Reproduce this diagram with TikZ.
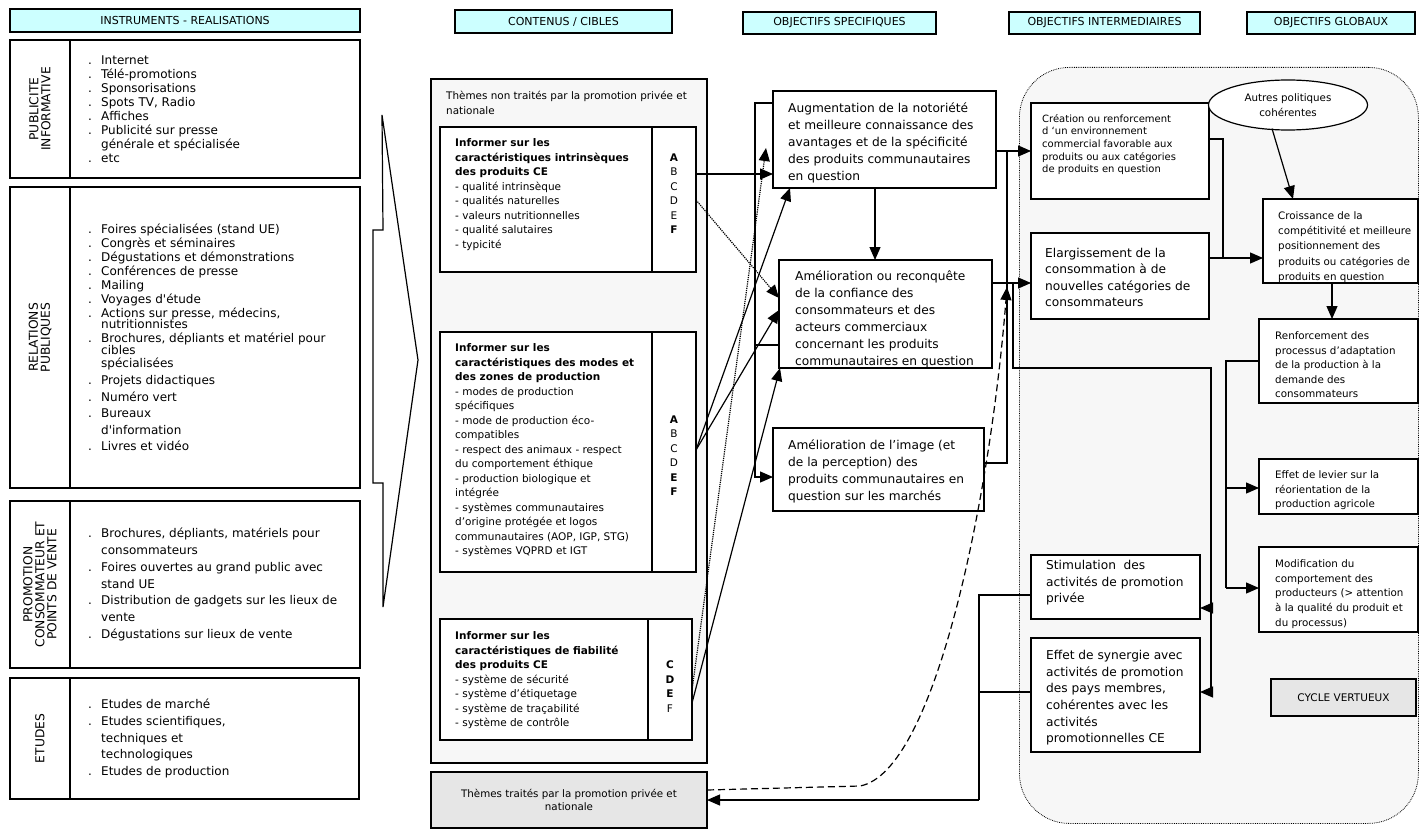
\documentclass[tikz,border=0pt]{standalone}
\usepackage{fontspec}
\setmainfont{DejaVu Sans}
\usetikzlibrary{arrows.meta,shapes.geometric,calc}
\definecolor{hdrc}{HTML}{CCFFFF}
\definecolor{lgray}{HTML}{F7F7F7}
\definecolor{mgray}{HTML}{E6E6E6}
\newcommand\fsz[2]{\fontsize{#1pt}{#2pt}\selectfont}
\newcommand\dt{\makebox[13pt][l]{.}}
\newcommand\ind{\hspace*{13pt}}
\newcommand\sq{\textquotesingle}
\begin{document}
\begin{tikzpicture}[x=1pt,y=-1pt,
  bx/.style={draw, line width=1.2pt, fill=white, inner sep=0pt, outer sep=0pt, anchor=north west},
  hdr/.style={bx, fill=hdrc, font=\fsz{11}{13}},
  tx/.style={inner sep=0pt, align=left, anchor=north west},
  lbl/.style={inner sep=0pt, align=center, rotate=90, font=\fsz{12.3}{12}},
  ln/.style={line width=1.2pt},
  arr/.style={line width=1.2pt, -{Triangle[length=13pt,width=11pt]}},
  dotarr/.style={arr, densely dotted},
  dasharr/.style={arr, dash pattern=on 7pt off 4pt}]
\useasboundingbox (0,0) rectangle (1420,829);

% ---------- headers
\node[hdr, minimum width=350pt, minimum height=23pt] (h1) at (10,9) {INSTRUMENTS - REALISATIONS};
\node[hdr, minimum width=217pt, minimum height=23pt] (h2) at (455,10) {CONTENUS / CIBLES};
\node[hdr, minimum width=193pt, minimum height=22pt] (h3) at (743,12) {OBJECTIFS SPECIFIQUES};
\node[hdr, minimum width=191pt, minimum height=22pt] (h4) at (1009,12) {OBJECTIFS INTERMEDIAIRES};
\node[hdr, minimum width=168pt, minimum height=22pt] (h5) at (1247,12) {OBJECTIFS GLOBAUX};

% ---------- instruments
\node[bx, minimum width=60pt, minimum height=138pt] (pl) at (10,40) {};
\node[bx, minimum width=290pt, minimum height=138pt] (pc) at (70,40) {};
\node[bx, minimum width=60pt, minimum height=301pt] (rl) at (10,187) {};
\node[bx, minimum width=290pt, minimum height=301pt] (rc) at (70,187) {};
\node[bx, minimum width=60pt, minimum height=167pt] (cl) at (10,501) {};
\node[bx, minimum width=290pt, minimum height=167pt] (cc) at (70,501) {};
\node[bx, minimum width=60pt, minimum height=121pt] (el) at (10,678) {};
\node[bx, minimum width=289pt, minimum height=121pt] (ec) at (70,678) {};

\node[lbl] (plt) at (pl.center) {PUBLICITE\\INFORMATIVE};
\node[lbl] (rlt) at (rl.center) {RELATIONS\\PUBLIQUES};
\node[lbl] (clt) at (cl.center) {PROMOTION\\CONSOMMATEUR ET\\POINTS DE VENTE};
\node[lbl] (elt) at (el.center) {ETUDES};

\node[tx, anchor=west, font=\fsz{12}{14}] (pct) at ([xshift=18pt]pc.west) {\dt Internet\\\dt Télé-promotions\\\dt Sponsorisations\\\dt Spots TV, Radio\\\dt Affiches\\\dt Publicité sur presse\\\ind générale et spécialisée\\\dt etc};
\node[tx, anchor=west, font=\fsz{12}{14}] (rct) at ([xshift=18pt]rc.west) {\dt Foires spécialisées (stand UE)\\\dt Congrès et séminaires\\\dt Dégustations et démonstrations\\\dt Conférences de presse\\\dt Mailing\\\dt Voyages d\sq étude\\\dt Actions sur presse, médecins,\\[-3pt]\ind nutritionnistes\\\dt Brochures, dépliants et matériel pour\\[-2pt]\ind cibles\\[-1pt]\ind spécialisées\\[3pt]\dt Projets didactiques\\[3pt]\dt Numéro vert\\[2pt]\dt Bureaux\\[3pt]\ind d\sq information\\[2pt]\dt Livres et vidéo};
\node[tx, anchor=west, font=\fsz{12}{16.7}] (cct) at ([xshift=18pt]cc.west) {\dt Brochures, dépliants, matériels pour\\\ind consommateurs\\\dt Foires ouvertes au grand public avec\\\ind stand UE\\\dt Distribution de gadgets sur les lieux de\\\ind vente\\\dt Dégustations sur lieux de vente};
\node[tx, anchor=west, font=\fsz{12}{16.7}] (ect) at ([xshift=18pt]ec.west) {\dt Etudes de marché\\\dt Etudes scientifiques,\\\ind techniques et\\\ind technologiques\\\dt Etudes de production};

% chevron
\draw[ln] (382,115) -- (418,360) -- (383,607) -- (383,483) -- (373,483) -- (373,230) -- (383,230) -- cycle;

% ---------- contenus
\node[bx, fill=lgray, minimum width=276pt, minimum height=684pt] (cg) at (431,79) {};
\node[tx, font=\fsz{10.4}{14.5}] (cgt) at (446,91) {Thèmes non traités par la promotion privée et\\nationale};

\node[bx, minimum width=212pt, minimum height=145pt] (b1t) at (440,127) {};
\node[bx, minimum width=44pt, minimum height=145pt] (b1l) at (652,127) {};
\node[bx, minimum width=212pt, minimum height=240pt] (b2t) at (440,332) {};
\node[bx, minimum width=44pt, minimum height=240pt] (b2l) at (652,332) {};
\node[bx, minimum width=208pt, minimum height=121pt] (b3t) at (440,619) {};
\node[bx, minimum width=44pt, minimum height=121pt] (b3l) at (648,619) {};

\node[tx, font=\fsz{10.5}{14.5}] (b1x) at (455,138.5) {\textbf{Informer sur les}\\\textbf{caractéristiques intrinsèques}\\\textbf{des produits CE}\\- qualité intrinsèque\\- qualités naturelles\\- valeurs nutritionnelles\\- qualité salutaires\\- typicité};
\node[inner sep=0pt, align=center, anchor=north, font=\fsz{10.5}{14.5}] (b1y) at (674,153.5) {\textbf{A}\\B\\C\\D\\E\\\textbf{F}};
\node[tx, font=\fsz{10.5}{14.5}] (b2x) at (455,343.5) {\textbf{Informer sur les}\\\textbf{caractéristiques des modes et}\\\textbf{des zones de production}\\- modes de production\\spécifiques\\- mode de production éco-\\compatibles\\- respect des animaux - respect\\du comportement éthique\\- production biologique et\\intégrée\\- systèmes communautaires\\d’origine protégée et logos\\communautaires (AOP, IGP, STG)\\- systèmes VQPRD et IGT};
\node[inner sep=0pt, align=center, anchor=north, font=\fsz{10.5}{14.5}] (b2y) at (674,415.5) {\textbf{A}\\B\\C\\D\\\textbf{E}\\\textbf{F}};
\node[tx, font=\fsz{10.5}{14.5}] (b3x) at (455,631.5) {\textbf{Informer sur les}\\\textbf{caractéristiques de fiabilité}\\\textbf{des produits CE}\\- système de sécurité\\- système d’étiquetage\\- système de traçabilité\\- système de contrôle};
\node[inner sep=0pt, align=center, anchor=north, font=\fsz{10.5}{14.5}] (b3y) at (670,660.5) {\textbf{C}\\\textbf{D}\\\textbf{E}\\F};

\node[bx, fill=mgray, minimum width=276pt, minimum height=56pt, align=center, font=\fsz{10.3}{13}] (bot) at (431,772) {Thèmes traités par la promotion privée et\\nationale};

% ---------- objectifs specifiques
\node[bx, minimum width=223pt, minimum height=97pt] (s1) at (773,91) {};
\node[tx, font=\fsz{12.2}{17}] (s1x) at (788,103) {Augmentation de la notoriété\\et meilleure connaissance des\\avantages et de la spécificité\\des produits communautaires\\en question};
\node[bx, minimum width=213pt, minimum height=108pt] (s2) at (779,260) {};
\node[tx, font=\fsz{12.2}{17}] (s2x) at (795,271) {Amélioration ou reconquête\\de la confiance des\\consommateurs et des\\acteurs commerciaux\\concernant les produits\\communautaires en question};
\node[bx, minimum width=211pt, minimum height=83pt] (s3) at (773,428) {};
\node[tx, font=\fsz{12.2}{16.8}] (s3x) at (788,440) {Amélioration de l’image (et\\de la perception) des\\produits communautaires en\\question sur les marchés};

% ---------- cycle vertueux region
\node[draw, densely dotted, line width=0.8pt, fill=lgray, rounded corners=50pt, inner sep=0pt, anchor=north west, minimum width=399pt, minimum height=756pt] (cyc) at (1019,67) {};

\node[bx, minimum width=178pt, minimum height=96pt] (i1) at (1031,103) {};
\node[tx, font=\fsz{10}{12.7}] (i1x) at (1042,114) {Création ou renforcement\\d ‘un environnement\\commercial favorable aux\\produits ou aux catégories\\de produits en question};
\node[bx, minimum width=178pt, minimum height=86pt] (i2) at (1031,233) {};
\node[tx, font=\fsz{12.2}{16.5}] (i2x) at (1045,248) {Elargissement de la\\consommation à de\\nouvelles catégories de\\consommateurs};
\node[bx, minimum width=169pt, minimum height=64pt] (i3) at (1031,555) {};
\node[tx, font=\fsz{12.2}{16.7}] (i3x) at (1046,560) {Stimulation~ des\\activités de promotion\\privée};
\node[bx, minimum width=169pt, minimum height=114pt] (i4) at (1031,638) {};
\node[tx, font=\fsz{12.2}{16.7}] (i4x) at (1046,650) {Effet de synergie avec\\activités de promotion\\des pays membres,\\cohérentes avec les\\activités\\promotionnelles CE};

\node[draw, line width=1.2pt, fill=white, ellipse, inner sep=0pt, minimum width=159pt, minimum height=50pt, align=center, font=\fsz{10.3}{14.5}] (ell) at (1288,105) {Autres politiques\\cohérentes};

\node[bx, minimum width=155pt, minimum height=84pt] (g1) at (1263,199) {};
\node[tx, font=\fsz{10.3}{15.2}] (g1x) at (1278,211.5) {Croissance de la\\compétitivité et meilleure\\positionnement des\\produits ou catégories de\\produits en question};
\node[bx, minimum width=159pt, minimum height=84pt] (g2) at (1259,319) {};
\node[tx, font=\fsz{10.3}{14.5}] (g2x) at (1275,331.5) {Renforcement des\\processus d’adaptation\\de la production à la\\demande des\\consommateurs};
\node[bx, minimum width=159pt, minimum height=55pt] (g3) at (1259,459) {};
\node[tx, font=\fsz{10.3}{14.5}] (g3x) at (1275,470.5) {Effet de levier sur la\\réorientation de la\\production agricole};
\node[bx, minimum width=159pt, minimum height=85pt] (g4) at (1259,547) {};
\node[tx, font=\fsz{10.3}{14.7}] (g4x) at (1275,559.5) {Modification du\\comportement des\\producteurs (> attention\\à la qualité du produit et\\du processus)};
\node[bx, fill=mgray, minimum width=145pt, minimum height=37pt, font=\fsz{10.5}{12}] (cv) at (1271,679) {CYCLE VERTUEUX};

% ---------- connectors: contenus -> objectifs specifiques
\draw[arr] (b1l.east |- 0,174) -- (s1.west |- 0,174);
\draw[dotarr] (b1l.east |- 0,200) -- (s2.west |- 0,298);
\draw[dotarr] (b3l.east |- 0,690) -- ($(s1.south west)+(-7,-40)$);
\draw[arr] (b2l.east |- 0,450) -- ($(s1.south west)+(17,0)$);
\draw[arr] (b2l.east |- 0,450) -- (s2.west |- 0,310);
\draw[arr] (b3l.east |- 0,703) -- ($(s2.south west)+(1,0)$);
\draw[arr] (s1.south -| 875,0) -- (s2.north -| 875,0);
\draw[arr] (s1.west |- 0,103) -| (755,477) -- (s3.west |- 0,477);
\draw[ln] (755,345) -- (s2.west |- 0,345);

% ---------- specifiques -> intermediaires
\draw[arr] (s1.east |- 0,151) -- (i1.west |- 0,151);
\draw[ln] (s3.east |- 0,463) -| (1007,151);
\draw[arr] (s2.east |- 0,283) -- (i2.west |- 0,283);
\draw[ln] (1013,283) |- (1211,368) -- (1211,692);
\draw[arr] (1211,608) -- (i3.east |- 0,608);
\draw[arr] (1211,692) -- (i4.east |- 0,692);
\draw[ln] (i3.west |- 0,595) -| (979,800);
\draw[ln] (i4.west |- 0,692) -- (979,692);
\draw[arr] (979,800) -- (bot.east |- 0,800);
\draw[dasharr] (bot.east |- 0,790) -- (860,786) .. controls (935,772) and (990,500) .. (1007,287);

% ---------- intermediaires -> globaux
\draw[ln] (i1.east |- 0,139) -| (1223,258);
\draw[arr] (i2.east |- 0,258) -- (g1.west |- 0,258);
\draw[arr] ($(ell.south)+(-16,-2)$) -- (g1.north -| 1293,0);
\draw[arr] (g1.south -| 1332,0) -- (g2.north -| 1332,0);
\draw[ln] (g2.west |- 0,361) -| (1226,588);
\draw[arr] (1226,488) -- (g3.west |- 0,488);
\draw[arr] (1226,588) -- (g4.west |- 0,588);
\end{tikzpicture}
\end{document}
